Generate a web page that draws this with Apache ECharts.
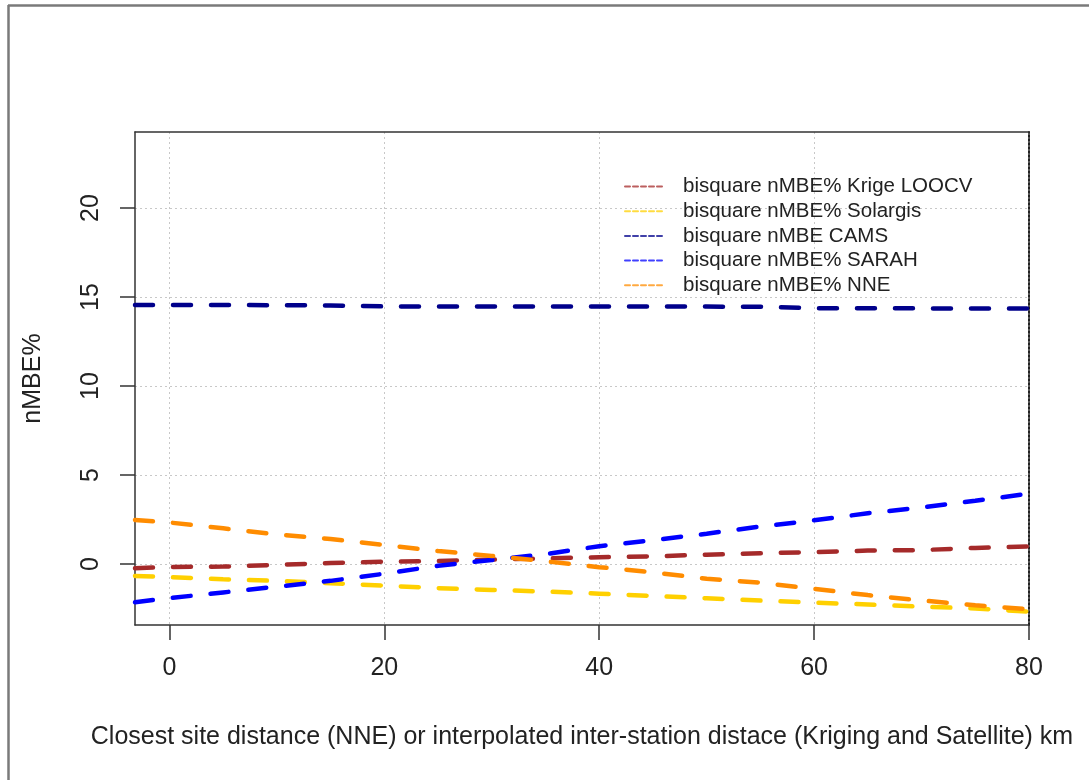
<!DOCTYPE html>
<html>
<head>
<meta charset="utf-8">
<script src="https://cdn.jsdelivr.net/npm/echarts@6/dist/echarts.min.js"></script>
<style>
  html, body { margin: 0; padding: 0; background: #fff; }
  #chart { width: 1089px; height: 780px; }
</style>
</head>
<body>
<div id="chart"></div>
<script>
// Distance grid (km) at which the fitted curves are sampled
const distances = [-3.2, 0, 5, 10, 15, 20, 25, 30, 35, 40, 45, 50, 55, 60, 65, 70, 75, 80];

// Bisquare-smoothed nMBE% per method
const krigeLOOCV = [-0.24, -0.17, -0.15, -0.05, 0.05, 0.13, 0.17, 0.25, 0.31, 0.38, 0.43, 0.52, 0.60, 0.67, 0.75, 0.78, 0.90, 0.98];
const solargis   = [-0.67, -0.74, -0.86, -0.95, -1.08, -1.22, -1.36, -1.46, -1.55, -1.67, -1.80, -1.93, -2.06, -2.17, -2.28, -2.40, -2.50, -2.68];
const cams       = [14.55, 14.55, 14.55, 14.54, 14.52, 14.47, 14.46, 14.46, 14.46, 14.46, 14.46, 14.46, 14.45, 14.37, 14.37, 14.36, 14.36, 14.36];
const sarah      = [-2.15, -1.92, -1.60, -1.28, -0.95, -0.55, -0.10, 0.22, 0.55, 1.00, 1.33, 1.70, 2.10, 2.45, 2.85, 3.17, 3.55, 3.95];
const nne        = [2.47, 2.33, 2.00, 1.66, 1.40, 1.06, 0.73, 0.45, 0.15, -0.18, -0.47, -0.83, -1.05, -1.40, -1.75, -2.05, -2.32, -2.55];

const seriesNames = [
  'bisquare nMBE% Krige LOOCV',
  'bisquare nMBE% Solargis',
  'bisquare nMBE CAMS',
  'bisquare nMBE% SARAH',
  'bisquare nMBE% NNE'
];
const seriesValues = [krigeLOOCV, solargis, cams, sarah, nne];
const seriesColors = ['#a52a2a', '#ffd000', '#00008b', '#0000ff', '#ff8c00'];

// Tick positions
const xTicks = [0, 20, 40, 60, 80];
const yTicks = [0, 5, 10, 15, 20];

const FONT = "'Liberation Sans', Arial, sans-serif";
const AXIS_FONT = 25;

const chart = echarts.init(document.getElementById('chart'), null, { renderer: 'canvas' });

const series = seriesNames.map((name, i) => ({
  name: name,
  type: 'line',
  xAxisIndex: 0,
  yAxisIndex: 0,
  symbol: 'none',
  smooth: false,
  silent: true,
  animation: false,
  data: distances.map((d, k) => [d, seriesValues[i][k]]),
  lineStyle: { color: seriesColors[i], width: 4.5, type: [18, 20], cap: 'round' },
  itemStyle: { color: seriesColors[i] }
}));

const option = {
  backgroundColor: '#ffffff',
  animation: false,
  textStyle: { fontFamily: FONT },
  grid: { left: 135, top: 132, right: 60, bottom: 155, containLabel: false },
  legend: {
    orient: 'vertical',
    left: 624,
    top: 176,
    padding: 0,
    itemWidth: 37,
    itemHeight: 14,
    itemGap: 3.7,
    data: seriesNames,
    itemStyle: { opacity: 0 },
    lineStyle: { width: 2, type: [5, 3], opacity: 0.75 },
    textStyle: { fontFamily: FONT, fontSize: 20.5, color: '#222', padding: [0, 0, 0, 16] },
    selectedMode: false
  },
  xAxis: [
    {
      type: 'value',
      min: -3.2,
      max: 80,
      position: 'bottom',
      name: 'Closest site distance (NNE) or interpolated inter-station distace (Kriging and Satellite) km',
      nameLocation: 'middle',
      nameGap: 100,
      nameTextStyle: { fontFamily: FONT, fontSize: AXIS_FONT, color: '#222' },
      axisLine: { show: true, onZero: false, lineStyle: { color: '#333', width: 1.5 } },
      axisTick: { show: true, length: 15, customValues: xTicks, lineStyle: { color: '#333', width: 1.5 } },
      axisLabel: { show: true, customValues: xTicks, margin: 31, fontFamily: FONT, fontSize: AXIS_FONT, color: '#222' },
      splitLine: { show: true, lineStyle: { color: '#c8c8c8', width: 1, type: [2, 3] } }
    },
    {
      type: 'value',
      min: -3.2,
      max: 80,
      position: 'top',
      axisLine: { show: true, onZero: false, lineStyle: { color: '#333', width: 1.5 } },
      axisTick: { show: false },
      axisLabel: { show: false },
      splitLine: { show: false }
    }
  ],
  yAxis: [
    {
      type: 'value',
      min: -3.43,
      max: 24.27,
      position: 'left',
      name: 'nMBE%',
      nameLocation: 'middle',
      nameGap: 89,
      nameRotate: 90,
      nameTextStyle: { fontFamily: FONT, fontSize: AXIS_FONT, color: '#222' },
      axisLine: { show: true, onZero: false, lineStyle: { color: '#333', width: 1.5 } },
      axisTick: { show: true, length: 15, customValues: yTicks, lineStyle: { color: '#333', width: 1.5 } },
      axisLabel: { show: true, customValues: yTicks, rotate: 90, margin: 31, fontFamily: FONT, fontSize: AXIS_FONT, color: '#222' },
      splitLine: { show: true, lineStyle: { color: '#c8c8c8', width: 1, type: [2, 3] } }
    },
    {
      type: 'value',
      min: -3.43,
      max: 24.27,
      position: 'right',
      axisLine: { show: true, onZero: false, lineStyle: { color: '#222', width: 2, type: [2, 2] } },
      axisTick: { show: false },
      axisLabel: { show: false },
      splitLine: { show: false }
    }
  ],
  graphic: [
    // outer frame (left and top edges)
    { type: 'line', shape: { x1: 8.5, y1: 5, x2: 8.5, y2: 780 }, style: { stroke: '#7a7a7a', lineWidth: 2.5 }, silent: true },
    { type: 'line', shape: { x1: 8, y1: 5.5, x2: 1089, y2: 5.5 }, style: { stroke: '#7a7a7a', lineWidth: 2.5 }, silent: true }
  ],
  series: series
};

chart.setOption(option);
</script>
</body>
</html>
